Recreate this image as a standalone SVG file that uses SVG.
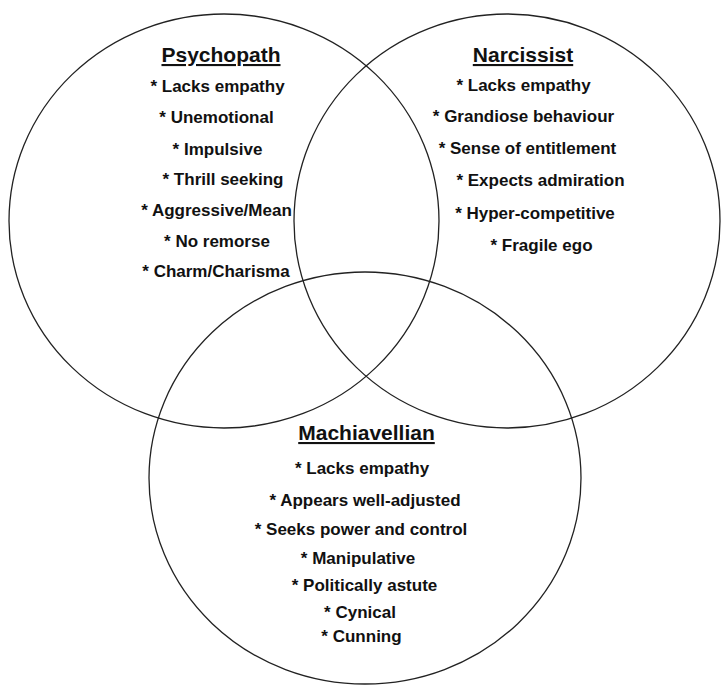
<svg xmlns="http://www.w3.org/2000/svg" width="722" height="685" viewBox="0 0 722 685">
<style>
.c{fill:none;stroke:#222;stroke-width:1.3}
.t{font-family:"Liberation Sans",Arial,sans-serif;font-weight:bold;fill:#111;text-anchor:middle}
.h{font-size:21px;text-decoration:underline}
.i{font-size:17px}
</style>
<rect width="722" height="685" fill="#fff"/>
<g id="circles">
<ellipse class="c" cx="224" cy="221" rx="215" ry="207"/>
<ellipse class="c" cx="507" cy="221" rx="213" ry="207"/>
<ellipse class="c" cx="365" cy="478" rx="216" ry="206"/>
</g>
<g id="psychopath" class="t">
<text class="h" x="221" y="62">Psychopath</text>
<text class="i" x="217.5" y="92">* Lacks empathy</text>
<text class="i" x="216.5" y="123">* Unemotional</text>
<text class="i" x="217.5" y="155">* Impulsive</text>
<text class="i" x="223" y="185">* Thrill seeking</text>
<text class="i" x="216.5" y="216">* Aggressive/Mean</text>
<text class="i" x="217" y="247">* No remorse</text>
<text class="i" x="216" y="277">* Charm/Charisma</text>
</g>
<g id="narcissist" class="t">
<text class="h" x="523" y="62">Narcissist</text>
<text class="i" x="523.5" y="91">* Lacks empathy</text>
<text class="i" x="523.5" y="122">* Grandiose behaviour</text>
<text class="i" x="527.5" y="154">* Sense of entitlement</text>
<text class="i" x="540.5" y="186">* Expects admiration</text>
<text class="i" x="535" y="219">* Hyper-competitive</text>
<text class="i" x="541.5" y="251">* Fragile ego</text>
</g>
<g id="machiavellian" class="t">
<text class="h" x="366.5" y="440">Machiavellian</text>
<text class="i" x="362" y="474">* Lacks empathy</text>
<text class="i" x="365" y="506">* Appears well-adjusted</text>
<text class="i" x="361" y="535">* Seeks power and control</text>
<text class="i" x="358" y="564">* Manipulative</text>
<text class="i" x="364.5" y="591">* Politically astute</text>
<text class="i" x="360" y="618">* Cynical</text>
<text class="i" x="361.5" y="642">* Cunning</text>
</g>
</svg>
